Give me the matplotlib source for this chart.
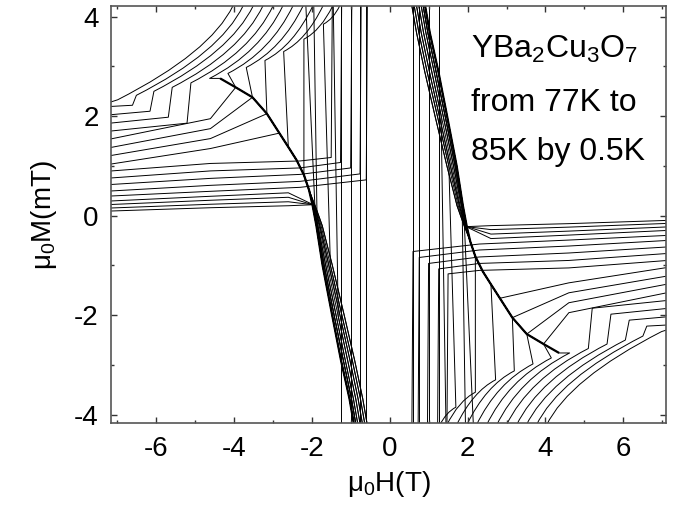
import matplotlib
matplotlib.use('Agg')
import matplotlib.pyplot as plt
from matplotlib.path import Path
from matplotlib.patches import PathPatch

plt.rcParams['font.family'] = ['Liberation Sans', 'DejaVu Sans']
plt.rcParams['mathtext.fontset'] = 'custom'
plt.rcParams['mathtext.rm'] = 'Liberation Sans'
plt.rcParams['mathtext.default'] = 'regular'
plt.rcParams['axes.unicode_minus'] = False

# --- data (upper-left half, lower-right half is the point mirror) ---
# fan lines entering at the left edge
fan_left = [0.09, 0.15, 0.22, 0.29, 0.39, 0.49, 0.62, 0.75, 0.89, 1.02, 1.19, 1.35, 1.52]
fan_mid = [0.16, 0.23, 0.31, 0.39, 0.49, 0.61, 0.75, 0.90, 1.05, 1.35, 1.55, 1.75, 1.95]   # at H = -4.6
fan_near = [0.20, 0.28, 0.37, 0.46]          # lowest four, at H = -2.6
fan_tail = [0, 1, 0, 2]
# lines that cross the envelope and turn up near H = -1
corner_pass = [0.57, 0.69, 0.83, 0.96, 1.10]  # at H = -2.3
corner_h = [-0.60, -0.76, -1.00, -1.26, -1.50]
corner_m = [0.72, 0.84, 0.96, 1.07, 1.17]
# upper fan lines joining the envelope
join_env = [4, 3, 2, 1]
join_tail = [4, 0, 5, 1]

# common critical-state envelope
env_h = [-4.35, -3.95, -3.52, -3.15, -2.83, -2.60, -2.39, -2.20, -2.07]
env_m = [2.76, 2.58, 2.38, 2.05, 1.66, 1.38, 1.12, 0.82, 0.52]
# steep part of the envelope, spread of the band
tail_m = [0.22, -0.2, -1.0, -2.02, -2.9, -3.68, -4.4]
tails_h = [
    [-1.98, -1.88, -1.72, -1.47, -1.25, -1.03, -0.87],
    [-1.97, -1.86, -1.68, -1.42, -1.19, -0.98, -0.82],
    [-1.96, -1.84, -1.64, -1.37, -1.14, -0.93, -0.77],
    [-1.95, -1.81, -1.60, -1.32, -1.08, -0.87, -0.71],
    [-1.94, -1.79, -1.56, -1.27, -1.02, -0.81, -0.65],
    [-1.93, -1.76, -1.52, -1.22, -0.96, -0.75, -0.59],
    [-1.92, -1.73, -1.47, -1.16, -0.90, -0.69, -0.53],
]

# arcs coming down from the top edge
arc_top = [-4.02, -3.76, -3.50, -3.25, -2.99, -2.74, -2.48, -2.22, -1.97, -1.71, -1.46, -1.28]
arc_ctrl_h = [-4.60, -4.34, -4.08, -3.83, -3.57, -3.32, -3.05, -2.76, -2.47, -2.14, -1.77, -1.45]
arc_ctrl_m = [3.28, 3.28, 3.29, 3.28, 3.28, 3.28, 3.30, 3.35, 3.41, 3.53, 3.72, 3.95]
arc_end_h = [-6.98, -6.50, -6.05, -5.58, -5.10, -4.62, -4.15, -3.68, -3.20, -2.72, -2.20, -1.70]
arc_end_m = [2.33, 2.42, 2.50, 2.58, 2.67, 2.76, 2.86, 2.98, 3.12, 3.30, 3.55, 3.85]
jump_m = [2.22, 2.10, 1.98, 1.86]            # arcs 1-4 after the flux jump
jump_left = [2.19, 2.02, 1.85, 1.69]         # ... at the left edge
arc_env = [0, 1, 2, 3, 5, 7]                 # arcs 5-10 drop onto the envelope
arc_tail = [0, 2, 3, 6, 0, 4]

extra_top = [-1.95, -1.45, -2.16]
extra_tail = [1, 3, 6]
extra_idx = [1, 3, 0]
full_h = [-1.26, -1.00, -0.76, -0.60]

LW = 0.7

fig = plt.figure(figsize=(6.73, 5.23), dpi=100)
ax = fig.add_axes([0.165, 0.191, 0.825, 0.797])


def trace(verts, codes, lw=LW):
    for s in (1, -1):
        v = [(s * h, s * m) for h, m in verts]
        ax.add_patch(PathPatch(Path(v, codes), fill=False, edgecolor='k',
                               lw=lw, joinstyle='round', capstyle='butt'))


def poly(pts, lw=LW):
    trace(pts, [Path.MOVETO] + [Path.LINETO] * (len(pts) - 1), lw)


def env_pts(i0):
    return list(zip(env_h[i0:], env_m[i0:]))


def tail_pts(t, i0=0):
    return list(zip(tails_h[t][i0:], tail_m[i0:]))


XL = -7.3
for k in range(4):
    poly([(XL, fan_left[k]), (-4.6, fan_mid[k]), (-2.6, fan_near[k])] + tail_pts(fan_tail[k]))
for i in range(5):
    k = i + 4
    poly([(XL, fan_left[k]), (-4.6, fan_mid[k]), (-2.3, corner_pass[i]),
          (corner_h[i], corner_m[i]), (corner_h[i] + 0.03, 4.4)])
for i in range(4):
    k = i + 9
    poly([(XL, fan_left[k]), (-4.6, fan_mid[k])] + env_pts(join_env[i]) + tail_pts(join_tail[i]))

for k in range(len(arc_top)):
    verts = [(arc_top[k], 4.22), (arc_ctrl_h[k], arc_ctrl_m[k]), (arc_end_h[k], arc_end_m[k])]
    if k == 0:
        rest = [(XL, 2.25)]
    elif k <= 4:
        rest = [(arc_end_h[k] - 0.1, jump_m[k - 1]), (XL, jump_left[k - 1])]
    elif k <= 10:
        rest = env_pts(arc_env[k - 5]) + tail_pts(arc_tail[k - 5])
    else:
        rest = tail_pts(5, 2)
    trace(verts + rest, [Path.MOVETO, Path.CURVE3, Path.CURVE3] + [Path.LINETO] * len(rest))

for i in range(len(extra_top)):
    poly([(extra_top[i], 4.4)] + tail_pts(extra_tail[i], extra_idx[i]))
for h in full_h:
    poly([(h, 4.4), (h, -4.4)])

# dark core of the envelope, where most curves lie on top of each other
poly(env_pts(0) + tail_pts(0), lw=1.6)

ax.set_xlim(-7.15, 7.1)
ax.set_ylim(-4.17, 4.21)
ax.set_xticks(range(-6, 7, 2))
ax.set_xticks(range(-7, 8, 2), minor=True)
ax.set_yticks(range(-4, 5, 2))
ax.set_yticks(range(-3, 4, 2), minor=True)
ax.tick_params(which='both', direction='in', top=True, right=True, width=1, color='#333')
ax.tick_params(which='major', length=4, labelsize=20, pad=9)
ax.tick_params(which='minor', length=2.5)
for sp in ax.spines.values():
    sp.set_color('#555')
    sp.set_linewidth(1.2)

ax.set_xlabel('μ$_0$H(T)', fontsize=20, labelpad=5)
ax.set_ylabel('μ$_0$M(mT)', fontsize=20, labelpad=11)

ax.text(2.1, 3.34, 'YBa$_2$Cu$_3$O$_7$', fontsize=23, va='center')
ax.text(2.1, 2.27, 'from 77K to', fontsize=23, va='center')
ax.text(2.1, 1.28, '85K by 0.5K', fontsize=23, va='center')

fig.savefig('out.png', dpi=100)
